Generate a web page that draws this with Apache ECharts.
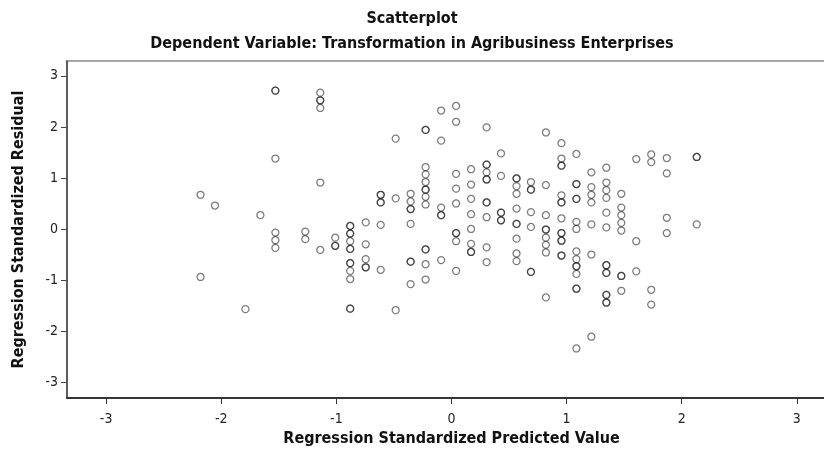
<!DOCTYPE html>
<html>
<head>
<meta charset="utf-8">
<script src="https://cdn.jsdelivr.net/npm/echarts@6/dist/echarts.min.js"></script>
<style>
  html, body { margin: 0; padding: 0; background: #fff; }
  #chart { width: 824px; height: 455px; }
</style>
</head>
<body>
<div id="chart"></div>
<script>
// Standardized predicted values (one entry per distinct level)
const predictedLevels = [-2.18, -2.055, -1.79, -1.66, -1.53, -1.27, -1.14, -1.01, -0.88, -0.745,
  -0.615, -0.485, -0.355, -0.225, -0.09, 0.04, 0.17, 0.305, 0.43, 0.565,
  0.69, 0.82, 0.955, 1.085, 1.215, 1.345, 1.475, 1.605, 1.735, 1.87, 2.13];

// Standardized residuals observed at each predicted level
const residualsByLevel = [
  [0.67, -0.94],
  [0.46],
  [-1.57],
  [0.27],
  [2.71, 2.71, 1.38, -0.07, -0.22, -0.37],
  [-0.05, -0.20],
  [2.67, 2.52, 2.52, 2.37, 0.91, -0.41],
  [-0.17, -0.33, -0.33],
  [0.06, 0.06, -0.09, -0.09, -0.24, -0.39, -0.39, -0.67, -0.67, -0.82, -0.98, -1.56, -1.56],
  [0.13, -0.30, -0.59, -0.75, -0.75],
  [0.67, 0.67, 0.52, 0.52, 0.08, -0.80],
  [1.77, 0.60, -1.59],
  [0.69, 0.54, 0.39, 0.39, 0.10, -0.64, -0.64, -1.08],
  [1.94, 1.94, 1.21, 1.07, 0.92, 0.77, 0.77, 0.63, 0.48, -0.40, -0.40, -0.69, -0.99],
  [2.32, 1.73, 0.42, 0.27, 0.27, -0.61],
  [2.41, 2.10, 1.08, 0.79, 0.50, -0.08, -0.08, -0.24, -0.82],
  [1.17, 0.87, 0.59, 0.29, 0.00, -0.29, -0.45, -0.45],
  [1.99, 1.26, 1.26, 1.11, 0.97, 0.97, 0.52, 0.52, 0.23, -0.36, -0.65],
  [1.48, 1.04, 0.32, 0.32, 0.17, 0.17],
  [0.99, 0.99, 0.84, 0.69, 0.40, 0.10, 0.10, -0.19, -0.48, -0.63],
  [0.92, 0.77, 0.77, 0.33, 0.04, -0.84, -0.84],
  [1.89, 0.86, 0.27, -0.01, -0.01, -0.17, -0.31, -0.46, -1.34],
  [1.68, 1.38, 1.24, 1.24, 0.66, 0.52, 0.52, 0.21, -0.08, -0.08, -0.23, -0.23, -0.52, -0.52],
  [1.47, 0.88, 0.88, 0.59, 0.59, 0.14, 0.00, -0.44, -0.59, -0.73, -0.73, -0.88, -1.17, -1.17, -2.34],
  [1.11, 0.82, 0.67, 0.52, 0.09, -0.50, -2.11],
  [1.20, 0.91, 0.76, 0.61, 0.32, 0.03, -0.71, -0.71, -0.86, -0.86, -1.29, -1.29, -1.44, -1.44],
  [0.69, 0.42, 0.27, 0.12, -0.03, -0.92, -0.92, -1.21],
  [1.37, -0.24, -0.83],
  [1.46, 1.31, -1.19, -1.48],
  [1.39, 1.09, 0.22, -0.08],
  [1.41, 1.41, 0.09]
];

const tickValues = [-3, -2, -1, 0, 1, 2, 3];

const chartTitle = 'Scatterplot';
const chartSubtitle = 'Dependent Variable: Transformation in Agribusiness Enterprises';
const xAxisTitle = 'Regression Standardized Predicted Value';
const yAxisTitle = 'Regression Standardized Residual';

const points = [];
predictedLevels.forEach((x, i) => {
  residualsByLevel[i].forEach(y => points.push([x, y]));
});

const labelFont = '"DejaVu Sans Condensed", "Liberation Sans", sans-serif';
const titleFont = '"DejaVu Sans Condensed", "Liberation Sans", sans-serif';

const chart = echarts.init(document.getElementById('chart'), null, { renderer: 'canvas' });
chart.setOption({
  animation: false,
  backgroundColor: '#fff',
  title: [
    {
      text: chartTitle, left: 'center', top: 6,
      textStyle: { fontFamily: titleFont, fontWeight: 'bold', fontSize: 16, color: '#111' }
    },
    {
      text: chartSubtitle, left: 'center', top: 31,
      textStyle: { fontFamily: titleFont, fontWeight: 'bold', fontSize: 16, color: '#111' }
    }
  ],
  // the plot frame runs past the right edge of the canvas
  grid: {
    left: 67, top: 61, width: 769, height: 337,
    outerBoundsMode: 'none', containLabel: false,
    show: true, borderColor: '#8a8a8a', borderWidth: 1.5, backgroundColor: '#fff'
  },
  xAxis: {
    type: 'value', min: -3.34, max: 3.34,
    name: xAxisTitle, nameLocation: 'middle', nameGap: 33,
    nameTextStyle: { fontFamily: titleFont, fontWeight: 'bold', fontSize: 16, color: '#111' },
    axisLine: { show: true, onZero: false, lineStyle: { color: '#111', width: 1.5 } },
    axisTick: { show: true, length: 6, customValues: tickValues, lineStyle: { color: '#333', width: 1 } },
    axisLabel: { customValues: tickValues, margin: 14, fontFamily: labelFont, fontSize: 14, color: '#222' },
    splitLine: { show: false }
  },
  yAxis: {
    type: 'value', min: -3.31, max: 3.29,
    name: yAxisTitle, nameLocation: 'middle', nameGap: 40, nameRotate: 90,
    nameTextStyle: { fontFamily: titleFont, fontWeight: 'bold', fontSize: 16, color: '#111' },
    axisLine: { show: true, onZero: false, lineStyle: { color: '#444', width: 1.5 } },
    axisTick: { show: true, length: 6, customValues: tickValues, lineStyle: { color: '#444', width: 1 } },
    axisLabel: { customValues: tickValues, margin: 9, fontFamily: labelFont, fontSize: 14, color: '#222' },
    splitLine: { show: false }
  },
  series: [{
    type: 'scatter',
    data: points,
    symbol: 'circle',
    symbolSize: 7,
    itemStyle: { color: 'rgba(0,0,0,0)', borderColor: 'rgba(20,20,20,0.7)', borderWidth: 1.25 },
    emphasis: { disabled: true }
  }]
});
</script>
</body>
</html>
